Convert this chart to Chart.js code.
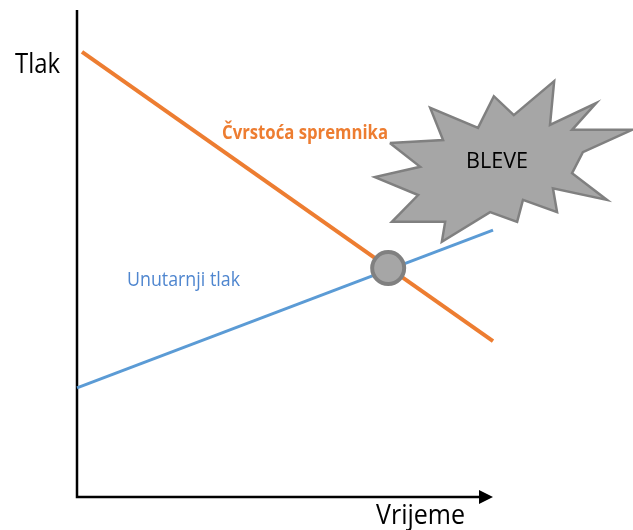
<!DOCTYPE html>
<html>
<head>
<meta charset="utf-8">
<script src="https://cdn.jsdelivr.net/npm/chart.js@4/dist/chart.umd.min.js"></script>
<style>
html,body{margin:0;padding:0;background:#fff;}
#wrap{width:633px;height:530px;position:relative;}
</style>
</head>
<body>
<div id="wrap"><canvas id="c" width="633" height="530"></canvas></div>
<script>
// ---- data (x: vrijeme, axis arrow at 100; y: tlak 0..100) ----
const strengthX = [1.2, 100];
const strengthY = [91.4, 32.0];
const pressureX = [0, 100];
const pressureY = [22.4, 54.8];
const crossX = [74.8];
const crossY = [47.0];
const starX = [75.2, 88.0, 84.9, 96.4, 100.2, 105.0, 114.7, 113.7, 124.8, 119.0, 133.4, 121.6, 119.0, 127.4, 114.4, 115.4, 107.2, 105.8, 99.3, 87.7, 88.5, 75.7, 82.0, 71.6, 82.5, 75.2];
const starY = [72.7, 73.3, 79.9, 75.8, 82.3, 78.4, 85.4, 76.4, 80.9, 75.4, 75.4, 70.8, 66.5, 61.0, 63.4, 58.5, 61.0, 56.5, 58.5, 52.4, 56.5, 56.5, 62.0, 65.7, 67.8, 72.7];
const labels = {
  yAxis: 'Tlak',
  xAxis: 'Vrijeme',
  strength: 'Čvrstoća spremnika',
  pressure: 'Unutarnji tlak',
  bleve: 'BLEVE'
};

const toPts = (xs, ys) => xs.map((x, i) => ({x: x, y: ys[i]}));
const FONT = '"Open Sans", sans-serif';

function fitText(ctx, text, left, baseline, width) {
  const w = ctx.measureText(text).width;
  ctx.save();
  ctx.translate(left, baseline);
  ctx.scale(width / w, 1);
  ctx.textAlign = 'left';
  ctx.fillText(text, 0, 0);
  ctx.restore();
}

const decor = {
  id: 'decor',
  beforeDatasetsDraw(chart) {
    const {ctx, scales: {x, y}} = chart;
    const x0 = x.getPixelForValue(0), y0 = y.getPixelForValue(0);
    const yTop = y.getPixelForValue(100), xEnd = x.getPixelForValue(100);
    ctx.save();
    ctx.strokeStyle = '#000';
    ctx.lineWidth = 2.5;
    ctx.beginPath();
    ctx.moveTo(x0, yTop);
    ctx.lineTo(x0, y0);
    ctx.lineTo(xEnd - 12, y0);
    ctx.stroke();
    ctx.fillStyle = '#000';
    ctx.beginPath();
    ctx.moveTo(xEnd, y0);
    ctx.lineTo(xEnd - 14, y0 - 7);
    ctx.lineTo(xEnd - 14, y0 + 7);
    ctx.closePath();
    ctx.fill();
    ctx.restore();
  },
  afterDatasetsDraw(chart) {
    const {ctx} = chart;
    ctx.save();
    ctx.textBaseline = 'alphabetic';
    ctx.fillStyle = '#000';
    ctx.font = '27px ' + FONT;
    fitText(ctx, labels.yAxis, 15, 73, 45);
    fitText(ctx, labels.xAxis, 376, 524, 89);
    ctx.font = '21px ' + FONT;
    fitText(ctx, labels.bleve, 466, 168, 62);
    ctx.fillStyle = '#ED7D31';
    ctx.font = 'bold 20px ' + FONT;
    fitText(ctx, labels.strength, 222, 139, 166);
    ctx.fillStyle = '#4F86CF';
    ctx.font = '20px ' + FONT;
    fitText(ctx, labels.pressure, 127, 286, 113);
    ctx.restore();
  }
};

new Chart(document.getElementById('c'), {
  type: 'scatter',
  data: {
    datasets: [
      {
        data: toPts(starX, starY),
        showLine: true,
        borderColor: '#808080',
        backgroundColor: '#A6A6A6',
        borderWidth: 2.5,
        fill: 'shape',
        pointRadius: 0,
        tension: 0,
        clip: false,
        order: 3
      },
      {
        data: toPts(pressureX, pressureY),
        showLine: true,
        borderColor: '#5B9BD5',
        borderWidth: 3,
        pointRadius: 0,
        fill: false,
        clip: false,
        order: 2
      },
      {
        data: toPts(strengthX, strengthY),
        showLine: true,
        borderColor: '#ED7D31',
        borderWidth: 4,
        pointRadius: 0,
        fill: false,
        clip: false,
        order: 1
      },
      {
        data: toPts(crossX, crossY),
        showLine: false,
        pointRadius: 16,
        pointBackgroundColor: '#A6A6A6',
        pointBorderColor: '#808080',
        pointBorderWidth: 4,
        clip: false,
        order: 0
      }
    ]
  },
  options: {
    responsive: false,
    animation: false,
    layout: {autoPadding: false, padding: {left: 77, right: 0, top: 10, bottom: 33}},
    plugins: {legend: {display: false}, tooltip: {enabled: false}},
    scales: {
      x: {type: 'linear', min: 0, max: 133.65, display: false},
      y: {type: 'linear', min: 0, max: 100, display: false}
    }
  },
  plugins: [decor]
});
</script>
</body>
</html>
